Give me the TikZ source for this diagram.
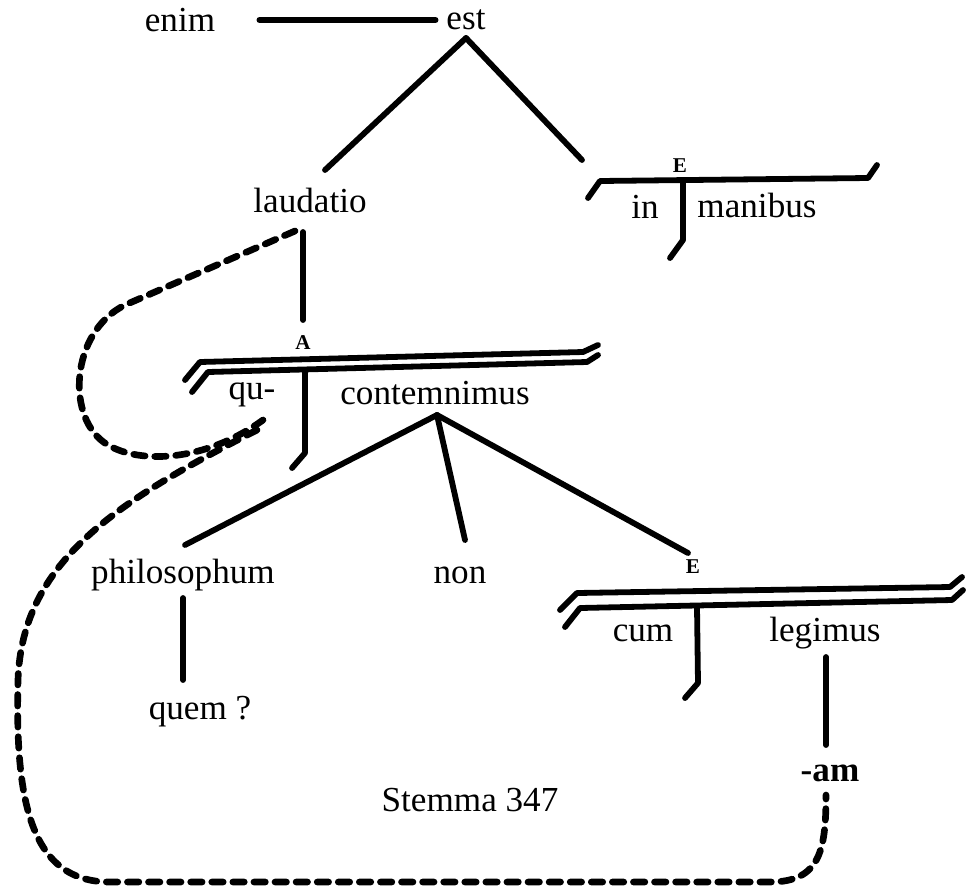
\documentclass[tikz,border=0pt]{standalone}
\usepackage{fontspec}
\setmainfont{Liberation Serif}
\usetikzlibrary{positioning}

\tikzset{
  word/.style={inner sep=1pt, font=\fontsize{20}{24}\selectfont},
  tag/.style={inner sep=1pt, font=\fontsize{12}{14}\selectfont\bfseries},
  link/.style={line width=3.3pt, line cap=round, line join=round},
  refline/.style={line width=3.8pt, line cap=round, dash pattern=on 6.5pt off 5.5pt}
}

\begin{document}
\begin{tikzpicture}[x=0.02cm, y=-0.02cm]
  \useasboundingbox (0,0) rectangle (966,893);

  % words
  \node[word] (enim)   at (180,20)  {enim};
  \node[word] (est)    at (466,20)  {est};
  \node[word] (laud)   at (310,200) {laudatio};
  \node[tag]  (eA)     at (680,166) {E};
  \node[word] (in)     at (645,207) {in};
  \node[word] (manib)  at (757,205) {manibus};
  \node[tag]  (aA)     at (303,343) {A};
  \node[word] (qu)     at (252,395) {qu-};
  \node[word] (contem) at (435,393) {contemnimus};
  \node[word] (philo)  at (183,575) {philosophum};
  \node[word] (non)    at (460,575) {non};
  \node[tag]  (eB)     at (693,567) {E};
  \node[word] (cum)    at (643,633) {cum};
  \node[word] (legim)  at (825,633) {legimus};
  \node[word] (quem)   at (200,712) {quem ?};
  \node[word, font=\fontsize{20}{24}\selectfont\bfseries] (am) at (830,773) {-am};
  \node[word] (stemma) at (470,800) {Stemma 347};

  % frame corners
  \coordinate (eAj)  at (683,181);
  \coordinate (aAj)  at (305,371);
  \coordinate (eBj)  at (697,607);
  \coordinate (cfoot) at (437,415);

  % frame: in | manibus
  \draw[link] (588,198) -- (600,181) -- (868,178) -- (877,165);
  \draw[link] (eAj) -- (683,240) -- (670,258);

  % frame: qu- | contemnimus
  \draw[link] (185,380) -- (200,362) -- (583,352) -- (598,345);
  \draw[link] (192,392) -- (208,372) -- (587,362) -- (598,355);
  \draw[link] (aAj) -- (305,453) -- (292,468);

  % frame: cum | legimus
  \draw[link] (560,610) -- (577,593) -- (950,587) -- (962,577);
  \draw[link] (565,627) -- (580,608) -- (952,600) -- (963,590);
  \draw[link] (eBj) -- (698,683) -- (685,698);

  % tree
  \draw[link, shorten <=24pt, shorten >=5pt] (enim.east) -- (est.west);
  \draw[link] (466,38) -- (325,170);
  \draw[link] (466,38) -- (582,160);
  \draw[link] (303,232) -- (303,320);
  \draw[link] (cfoot) -- (185,545);
  \draw[link] (cfoot) -- (465,540);
  \draw[link] (cfoot) -- (688,553);
  \draw[link] (183,598) -- (183,680);
  \draw[link] (826,657) -- (826,745);

  % references
  \draw[refline] (295,231) -- (125,305)
    .. controls (70,332) and (65,420) .. (108,445)
    .. controls (140,464) and (205,462) .. (263,420);
  \draw[refline] (257,430) .. controls (120,500) and (22,560) .. (18,680)
    .. controls (15,800) and (30,882) .. (110,882) -- (770,882)
    .. controls (820,882) and (826,850) .. (826,795);
\end{tikzpicture}
\end{document}
